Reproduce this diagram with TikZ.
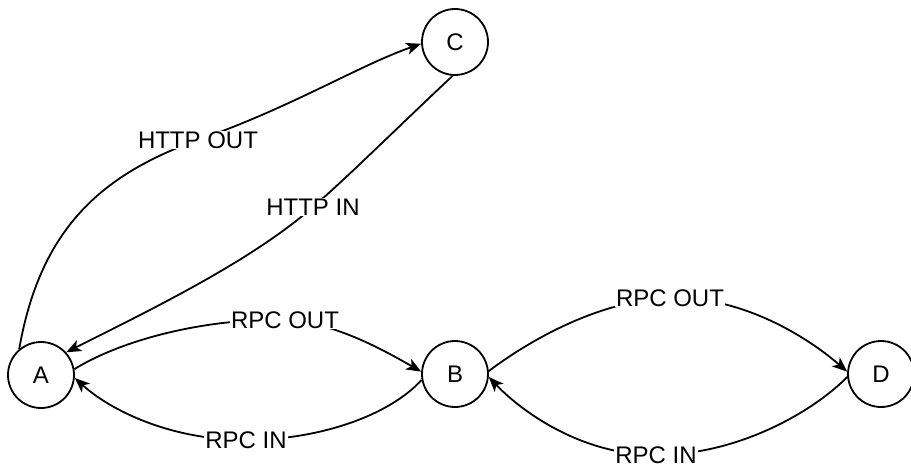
\documentclass[tikz,border=0pt]{standalone}
\usepackage{fontspec}
\setmainfont{Liberation Sans}
\usetikzlibrary{arrows.meta}
\begin{document}
\begin{tikzpicture}[x=1pt,y=-1pt,line width=1.8pt,
  state/.style={circle,draw,minimum size=66pt,inner sep=0pt,
    font=\fontsize{24}{28}\selectfont},
  lbl/.style={fill=white,inner sep=1pt,font=\fontsize{24}{28}\selectfont},
  link/.style={-{Stealth[length=15pt,width=12pt,inset=4pt]}}]
\useasboundingbox (0,0) rectangle (911,468);

% states
\node[state] (A) at (41,375) {A};
\node[state] (B) at (455,374) {B};
\node[state] (C) at (455,42) {C};
\node[state] (D) at (881,374) {D};

% HTTP traffic between A and C
\draw[link] (A.130) .. controls (40,230) and (100,175) .. (198,140)
  node[lbl] {HTTP OUT} .. controls (290,108) and (360,65) .. (C.183);
\draw[link] (C.266) .. controls (400,125) and (350,175) .. (313,207)
  node[lbl] {HTTP IN} .. controls (250,262) and (150,310) .. (A.42);

% RPC traffic between A and B
\draw[link] (A.10) .. controls (125,338) and (210,318) .. (285,320)
  node[lbl] {RPC OUT} .. controls (330,322) and (375,345) .. (B.176);
\draw[link] (B.190) .. controls (390,415) and (320,440) .. (246,440)
  node[lbl] {RPC IN} .. controls (170,440) and (110,410) .. (A.-5);

% RPC traffic between B and D
\draw[link] (B.5) .. controls (530,340) and (600,300) .. (670,298)
  node[lbl] {RPC OUT} .. controls (740,296) and (805,335) .. (D.176);
\draw[link] (D.185) .. controls (815,410) and (740,455) .. (656,455)
  node[lbl] {RPC IN} .. controls (580,455) and (520,410) .. (B.-5);
\end{tikzpicture}
\end{document}
